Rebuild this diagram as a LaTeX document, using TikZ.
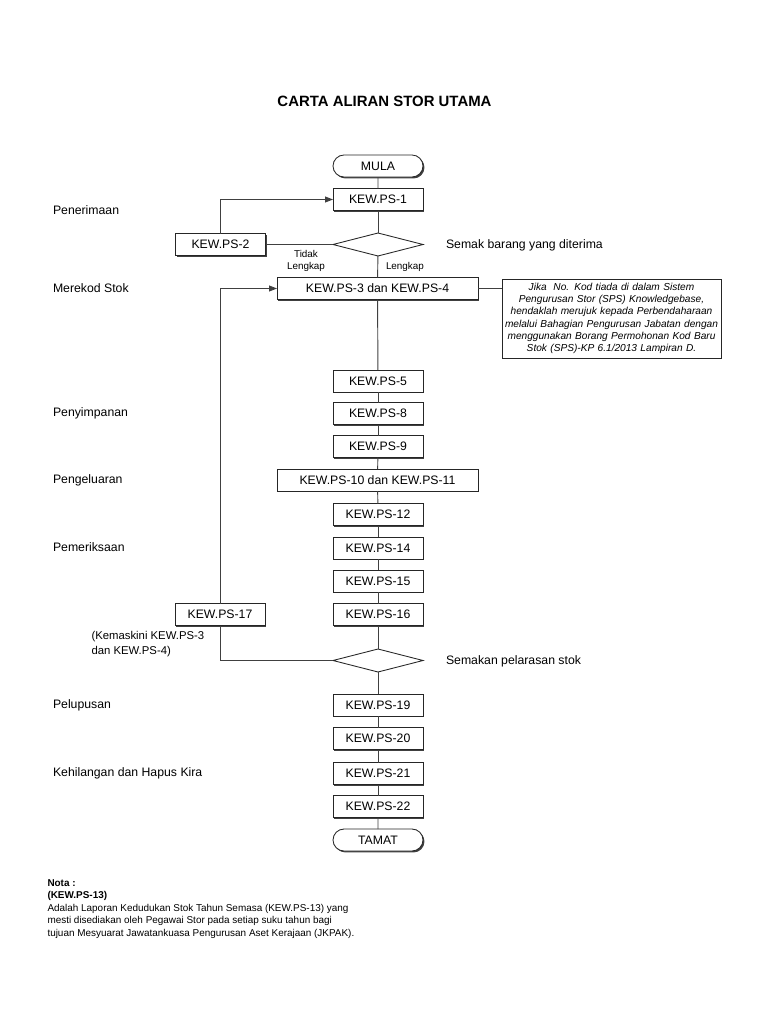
\documentclass[tikz,border=0pt]{standalone}
\usepackage{fontspec}
\setmainfont{Liberation Sans}
\usetikzlibrary{shapes.geometric,shapes.misc,arrows.meta,shadows}
\begin{document}
\begin{tikzpicture}[x=0.75pt,y=-0.75pt,
  every node/.style={inner sep=0pt, outer sep=0pt},
  boxsh/.style={draw=black!85, line width=0.65pt, fill=white,
    minimum width=67.5pt, minimum height=16.5pt,
    font=\fontsize{9.2}{11}\selectfont,
    drop shadow={shadow xshift=1.1pt, shadow yshift=-1.1pt, fill=black!75, opacity=1}},
  widebox/.style={boxsh, minimum width=150.75pt},
  term/.style={boxsh, rounded rectangle},
  dec/.style={diamond, draw=black!85, line width=0.65pt, fill=white,
    minimum width=67.5pt, minimum height=17.25pt},
  lbl/.style={font=\fontsize{9.2}{11}\selectfont, anchor=west, text height=6.6pt, text depth=0pt},
  small/.style={font=\fontsize{7.4}{9}\selectfont, align=center},
  nota/.style={font=\fontsize{7.45}{9}\selectfont, anchor=west, text height=5.4pt, text depth=0pt},
  conn/.style={draw=black!75, line width=0.7pt},
  arr/.style={conn, -{Triangle[length=6pt,width=4.5pt]}}
]
\useasboundingbox (0,0) rectangle (768,1024);

% title
\node[font=\fontsize{11.2}{13}\selectfont\bfseries] (title) at (384.5,101) {CARTA ALIRAN STOR UTAMA};

% main column
\node[term] (mula) at (378,166) {MULA};
\node[boxsh] (k1) at (378,199.5) {KEW.PS-1};
\node[dec] (d1) at (378,244.5) {};
\node[boxsh] (k2) at (220.5,244.5) {KEW.PS-2};
\node[widebox] (k3) at (377.5,288.5) {KEW.PS-3 dan KEW.PS-4};
\node[boxsh, minimum width=164.25pt, minimum height=59.25pt, text width=160pt, align=center,
      font=\fontsize{7.6}{9.2}\selectfont\itshape] (note) at (611.5,318.5)
  {Jika\ \ No. Kod tiada di dalam Sistem\\ Pengurusan Stor (SPS) Knowledgebase,\\ hendaklah merujuk kepada Perbendaharaan\\ melalui Bahagian Pengurusan Jabatan dengan\\ menggunakan Borang Permohonan Kod Baru\\ Stok (SPS)-KP 6.1/2013 Lampiran D.};
\node[boxsh] (k5) at (378,381) {KEW.PS-5};
\node[boxsh] (k8) at (378,413.5) {KEW.PS-8};
\node[boxsh] (k9) at (378,446.5) {KEW.PS-9};
\node[widebox] (k10) at (377.5,480) {KEW.PS-10 dan KEW.PS-11};
\node[boxsh] (k12) at (378,514.5) {KEW.PS-12};
\node[boxsh] (k14) at (378,548) {KEW.PS-14};
\node[boxsh] (k15) at (378,581) {KEW.PS-15};
\node[boxsh] (k16) at (378,614.5) {KEW.PS-16};
\node[boxsh] (k17) at (220,614.5) {KEW.PS-17};
\node[dec] (d2) at (378,660.5) {};
\node[boxsh] (k19) at (378,705) {KEW.PS-19};
\node[boxsh] (k20) at (378,738.5) {KEW.PS-20};
\node[boxsh] (k21) at (378,773.5) {KEW.PS-21};
\node[boxsh] (k22) at (378,806.5) {KEW.PS-22};
\node[term] (tamat) at (378,840) {TAMAT};

% small labels
\node[small] (tidak) at (306,261) {Tidak\\Lengkap};
\node[font=\fontsize{7.4}{9}\selectfont, anchor=west] (lengkap) at (386,267) {Lengkap};
\node[lbl] (semak) at (446,244) {Semak barang yang diterima};
\node[lbl] (semakan) at (446,660) {Semakan pelarasan stok};
\node[font=\fontsize{8.5}{11.2}\selectfont, align=left, anchor=north west] (kemaskini) at (91.5,631.5)
  {(Kemaskini KEW.PS-3\\dan KEW.PS-4)};

% left labels
\node[lbl] (l1) at (53,210) {Penerimaan};
\node[lbl] (l2) at (53,288.5) {Merekod Stok};
\node[lbl] (l3) at (53,412.5) {Penyimpanan};
\node[lbl] (l4) at (53,479.5) {Pengeluaran};
\node[lbl] (l5) at (53,547) {Pemeriksaan};
\node[lbl] (l6) at (53,704) {Pelupusan};
\node[lbl] (l7) at (53,772.5) {Kehilangan dan Hapus Kira};

% nota
\node[nota, font=\fontsize{7.45}{9}\selectfont\bfseries] (n1) at (47.5,882.5) {Nota :};
\node[nota, font=\fontsize{7.45}{9}\selectfont\bfseries] (n2) at (47.5,895) {(KEW.PS-13)};
\node[nota] (n3) at (47.5,907.5) {Adalah Laporan Kedudukan Stok Tahun Semasa (KEW.PS-13) yang};
\node[nota] (n4) at (47.5,920) {mesti disediakan oleh Pegawai Stor pada setiap suku tahun bagi};
\node[nota] (n5) at (47.5,932.5) {tujuan Mesyuarat Jawatankuasa Pengurusan Aset Kerajaan (JKPAK).};

% connectors
\draw[conn] (mula) -- (k1);
\draw[conn] (k1) -- (d1);
\draw[conn] (d1) -- (k3);
\draw[conn] (d1.west) -- (k2.east);
\draw[arr] (k2.north) |- (k1.west);
\draw[conn] (k3.east) -- (k3.east -| note.west);
\draw[conn] (k3) -- (k5);
\draw[conn] (k5) -- (k8);
\draw[conn] (k8) -- (k9);
\draw[conn] (k9) -- (k10);
\draw[conn] (k10) -- (k12);
\draw[conn] (k12) -- (k14);
\draw[conn] (k14) -- (k15);
\draw[conn] (k15) -- (k16);
\draw[conn] (k16) -- (d2);
\draw[conn] (d2) -- (k19);
\draw[conn] (k19) -- (k20);
\draw[conn] (k20) -- (k21);
\draw[conn] (k21) -- (k22);
\draw[conn] (k22) -- (tamat);
\draw[arr] (k17.north) |- (k3.west);
\draw[conn] (k17.south) |- (d2.west);
\end{tikzpicture}
\end{document}
